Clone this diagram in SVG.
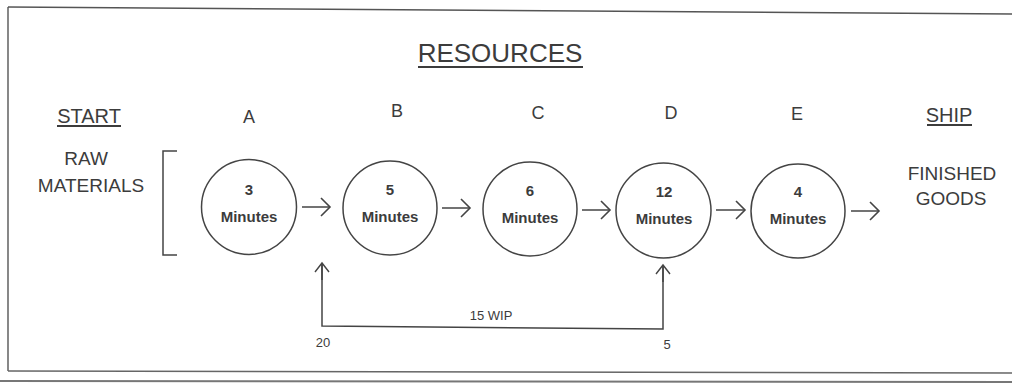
<svg xmlns="http://www.w3.org/2000/svg" width="1012" height="385" viewBox="0 0 1012 385">
<style>
.t{font-family:"Liberation Sans",Arial,sans-serif;fill:#3c3c3c}
.lbl{font-size:19px}
.hd{font-size:20px}
.let{font-size:18px}
.num{font-size:15px;font-weight:bold}
.sm{font-size:13px}
.ln{stroke:#444;stroke-width:1.5;fill:none}
.nd{stroke:#444;stroke-width:1.5;fill:#fff}
.ul{stroke:#3c3c3c;stroke-width:1.8}
</style>
<defs>
<marker id="ah" markerUnits="userSpaceOnUse" markerWidth="12" markerHeight="22" viewBox="0 0 12 22" refX="10" refY="11" orient="auto">
<path d="M1,2 L10,11 L1,20" fill="none" stroke="#444" stroke-width="1.6"/>
</marker>
<marker id="ahs" markerUnits="userSpaceOnUse" markerWidth="12" markerHeight="18" viewBox="0 0 12 18" refX="10" refY="9" orient="auto">
<path d="M1,2 L10,9 L1,16" fill="none" stroke="#444" stroke-width="1.4"/>
</marker>
</defs>
<rect width="1012" height="385" fill="#fff"/>
<g id="frame">
<line x1="8" y1="7" x2="1012" y2="14" stroke="#555" stroke-width="1.6"/>
<line x1="8" y1="7" x2="8" y2="371" stroke="#555" stroke-width="1.4"/>
<line x1="8" y1="371" x2="1012" y2="373" stroke="#666" stroke-width="1.6"/>
<line x1="0" y1="381" x2="1012" y2="382" stroke="#777" stroke-width="2.2"/>
</g>
<g id="titles">
<text class="t" x="500" y="62" font-size="26" text-anchor="middle">RESOURCES</text>
<line class="ul" x1="418" y1="67" x2="583" y2="67"/>
<text class="t hd" x="89" y="123" text-anchor="middle">START</text>
<line class="ul" x1="57" y1="126" x2="121" y2="126"/>
<text class="t hd" x="949" y="122" text-anchor="middle">SHIP</text>
<line class="ul" x1="927" y1="125" x2="972" y2="125"/>
</g>
<g id="start">
<text class="t lbl" x="86" y="165" text-anchor="middle">RAW</text>
<text class="t lbl" x="91" y="192" text-anchor="middle">MATERIALS</text>
<path class="ln" d="M177,151 L163,151 L163,255 L177,255"/>
</g>
<g id="ship">
<text class="t lbl" x="952" y="180" text-anchor="middle">FINISHED</text>
<text class="t lbl" x="951" y="205" text-anchor="middle">GOODS</text>
</g>
<g id="nodeA">
<text class="t let" x="249" y="123" text-anchor="middle">A</text>
<circle class="nd" cx="249" cy="207" r="47.5"/>
<text class="t num" x="249" y="195" text-anchor="middle">3</text>
<text class="t num" x="249" y="222" text-anchor="middle">Minutes</text>
</g>
<g id="nodeB">
<text class="t let" x="397" y="117" text-anchor="middle">B</text>
<circle class="nd" cx="390" cy="208" r="47"/>
<text class="t num" x="390" y="195" text-anchor="middle">5</text>
<text class="t num" x="390" y="222" text-anchor="middle">Minutes</text>
</g>
<g id="nodeC">
<text class="t let" x="538" y="119" text-anchor="middle">C</text>
<circle class="nd" cx="530" cy="209" r="47"/>
<text class="t num" x="530" y="196" text-anchor="middle">6</text>
<text class="t num" x="530" y="223" text-anchor="middle">Minutes</text>
</g>
<g id="nodeD">
<text class="t let" x="671" y="119" text-anchor="middle">D</text>
<circle class="nd" cx="663.5" cy="210.5" r="47.5"/>
<text class="t num" x="664" y="197" text-anchor="middle">12</text>
<text class="t num" x="664" y="224" text-anchor="middle">Minutes</text>
</g>
<g id="nodeE">
<text class="t let" x="797" y="120" text-anchor="middle">E</text>
<circle class="nd" cx="798" cy="211" r="47"/>
<text class="t num" x="798" y="197" text-anchor="middle">4</text>
<text class="t num" x="798" y="224" text-anchor="middle">Minutes</text>
</g>
<g id="connectors">
<line class="ln" x1="302" y1="207" x2="330" y2="207" marker-end="url(#ah)"/>
<line class="ln" x1="442" y1="208" x2="470" y2="208" marker-end="url(#ah)"/>
<line class="ln" x1="582" y1="210" x2="610" y2="210" marker-end="url(#ah)"/>
<line class="ln" x1="716" y1="210" x2="745" y2="210" marker-end="url(#ah)"/>
<line class="ln" x1="851" y1="211" x2="879" y2="211" marker-end="url(#ah)"/>
<path class="ln" d="M663,265 L663,329 L322,326 L322,263"/>
<line class="ln" x1="322" y1="280" x2="322" y2="263" marker-end="url(#ahs)"/>
<line class="ln" x1="663" y1="282" x2="663" y2="265" marker-end="url(#ahs)"/>
<text class="t sm" x="491" y="320" text-anchor="middle">15 WIP</text>
<text class="t sm" x="323" y="347" text-anchor="middle">20</text>
<text class="t sm" x="667" y="349" text-anchor="middle">5</text>
</g>
</svg>
